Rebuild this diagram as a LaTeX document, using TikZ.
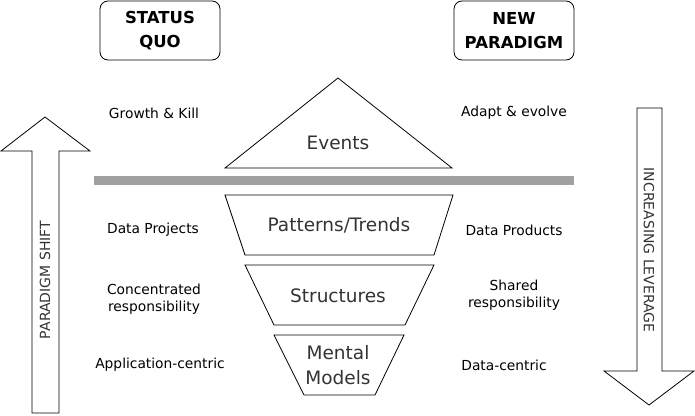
\documentclass[tikz,border=0pt]{standalone}
\usepackage{fontspec}
\setmainfont{DejaVu Sans}
\definecolor{barcol}{HTML}{A0A0A0}
\definecolor{shptext}{HTML}{333333}
\begin{document}
\begin{tikzpicture}[x=1pt,y=-1pt,
  lbl/.style={font=\fontsize{13.8}{17}\selectfont, align=center, inner sep=0pt},
  shp/.style={draw=black, line width=0.8pt},
  shplbl/.style={font=\fontsize{18.5}{25}\selectfont, text=shptext, align=center, inner sep=0pt},
  hdr/.style={draw, line width=0.8pt, rounded corners=8pt, minimum width=120pt, minimum height=59pt, align=center, inner sep=0pt, font=\bfseries\fontsize{16.5}{24}\selectfont},
  vlbl/.style={font=\fontsize{14}{15}\selectfont, inner sep=0pt, text=shptext}]
\useasboundingbox (0,0) rectangle (695,415);

% header boxes
\node[hdr] (sq) at (160,30.5) {STATUS\\QUO};
\node[hdr] (np) at (514,30.5) {NEW\\PARADIGM};

% gray bar
\fill[barcol] (94,176) rectangle (574,185);

% pyramid shapes
\draw[shp] (338,78) -- (452,168) -- (225,168) -- cycle;
\draw[shp] (225,195) -- (453,195) -- (434,255) -- (245,255) -- cycle;
\draw[shp] (245,265) -- (434,265) -- (405,325) -- (274,325) -- cycle;
\draw[shp] (274,335) -- (404,335) -- (375,395) -- (304,395) -- cycle;

\node[shplbl] (ev) at (338,143) {Events};
\node[shplbl] (pt) at (339,225) {Patterns/Trends};
\node[shplbl] (st) at (338,296) {Structures};
\node[shplbl] (mm) at (338,365.5) {Mental\\Models};

% side arrows
\draw[shp] (45,117) -- (90,151) -- (59,151) -- (59,413) -- (32,413) -- (32,151) -- (1,151) -- cycle;
\draw[shp] (637,108) -- (662,108) -- (662,371) -- (694,371) -- (649,405) -- (604,371) -- (637,371) -- cycle;
\node[vlbl, rotate=90] (ps) at (45,280) {PARADIGM SHIFT};
\node[vlbl, rotate=-90] (il) at (649,250) {INCREASING LEVERAGE};

% left labels
\node[lbl] (gk) at (154,113) {Growth \& Kill};
\node[lbl] (dp) at (153,230) {Data Projects};
\node[lbl] (cr) at (154,299.5) {Concentrated\\responsibility};
\node[lbl] (ac) at (160,365) {Application-centric};

% right labels
\node[lbl] (ae) at (514,113) {Adapt \& evolve};
\node[lbl] (dpr) at (514,230) {Data Products};
\node[lbl] (sr) at (514,295.5) {Shared\\responsibility};
\node[lbl] (dc) at (504,365) {Data-centric};
\end{tikzpicture}
\end{document}
